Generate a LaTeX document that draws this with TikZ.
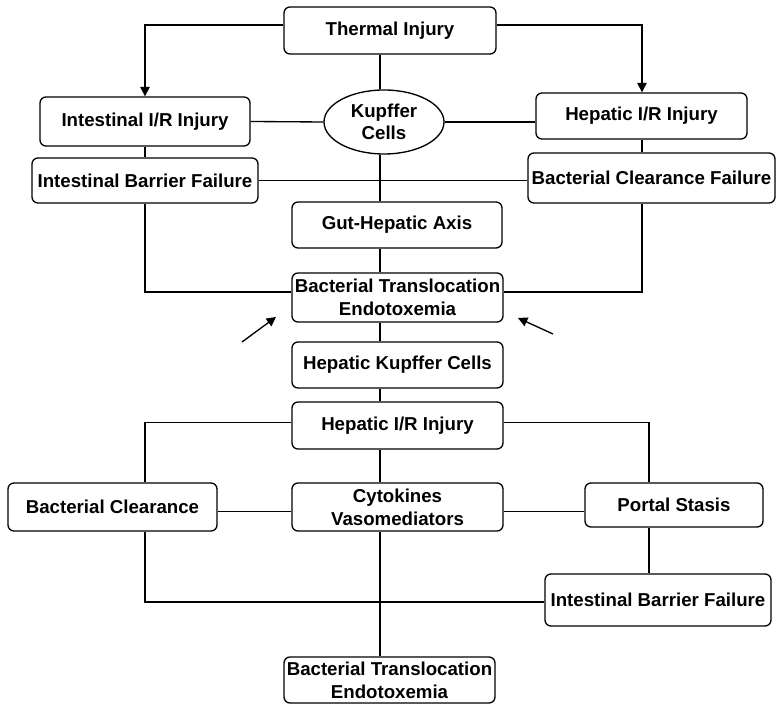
\documentclass[tikz,border=0pt]{standalone}
\usepackage{fontspec}
\setmainfont{Liberation Sans}
\usetikzlibrary{arrows.meta,shapes.geometric}
\begin{document}
\begin{tikzpicture}[x=0.75pt,y=0.75pt,
  box/.style={draw,rounded corners=4.5pt,line width=1pt,align=center,inner sep=0pt,
    font=\bfseries\fontsize{14}{17}\selectfont},
  oval/.style={draw,ellipse,line width=1pt,align=center,inner sep=0pt,
    font=\bfseries\fontsize{14}{17}\selectfont},
  conn/.style={line width=1pt},
  arr/.style={line width=1pt,-{Triangle[length=7pt,width=7pt]}}]
\useasboundingbox (0,0) rectangle (776,-705);
\coordinate (trunk) at (380,0);
\coordinate (lx) at (145,0);
\coordinate (rx) at (649,0);
\coordinate (rtop) at (642,0);
% nodes
\node[box,minimum width=159pt,minimum height=35.25pt] (thermal) at (390,-30.5) {Thermal Injury};
\node[oval,minimum width=90pt,minimum height=48pt] (kup) at (384,-122) {Kupffer\\Cells};
\node[box,minimum width=157.5pt,minimum height=36.75pt] (iir) at (145,-121.5) {Intestinal I/R Injury};
\node[box,minimum width=158.25pt,minimum height=34.5pt] (hir) at (641.5,-116) {Hepatic I/R Injury};
\node[box,minimum width=169.5pt,minimum height=33.75pt] (ibf) at (145,-180.5) {Intestinal Barrier Failure};
\node[box,minimum width=185.25pt,minimum height=37.5pt] (bcf) at (651.5,-178) {Bacterial Clearance Failure};
\node[box,minimum width=157.5pt,minimum height=34.5pt] (gha) at (397,-225) {Gut-Hepatic Axis};
\node[box,minimum width=158.25pt,minimum height=36.75pt] (bte) at (397.5,-297.5) {Bacterial Translocation\\Endotoxemia};
\node[box,minimum width=158.25pt,minimum height=34.5pt] (hkc) at (397.5,-365) {Hepatic Kupffer Cells};
\node[box,minimum width=158.25pt,minimum height=35.25pt] (hir2) at (397.5,-425.5) {Hepatic I/R Injury};
\node[box,minimum width=156.75pt,minimum height=36pt] (bc) at (112.5,-507) {Bacterial Clearance};
\node[box,minimum width=158.25pt,minimum height=36pt] (cyt) at (397.5,-507) {Cytokines\\Vasomediators};
\node[box,minimum width=133.5pt,minimum height=33pt] (ps) at (674,-505) {Portal Stasis};
\node[box,minimum width=169.5pt,minimum height=39pt] (ibf2) at (658,-600) {Intestinal Barrier Failure};
\node[box,minimum width=158.25pt,minimum height=34.5pt] (bte2) at (389.5,-680) {Bacterial Translocation\\Endotoxemia};
% top connectors
\draw[arr] ([yshift=4pt]thermal.west) -| (iir.north);
\draw[arr] ([yshift=4pt]thermal.east) -| (rtop |- hir.north);
\draw[conn] (trunk |- thermal.south) -- (trunk |- kup.north);
\draw[conn] (iir.east) -- (kup.west);
\draw[conn] (kup.east) -- (kup.east -| hir.west);
\draw[conn] (iir.south) -- (ibf.north);
\draw[conn] (rtop |- hir.south) -- (rtop |- bcf.north);
\draw[conn] (ibf.east) -- (ibf.east -| bcf.west);
\draw[conn] (trunk |- kup.south) -- (trunk |- gha.north);
\draw[conn] (trunk |- gha.south) -- (trunk |- bte.north);
\draw[conn] (ibf.south) |- ([yshift=4pt]bte.west);
\draw[conn] (rtop |- bcf.south) |- ([yshift=4pt]bte.east);
% middle trunk
\draw[conn] (trunk |- bte.south) -- (trunk |- hkc.north);
\draw[conn] (trunk |- hkc.south) -- (trunk |- hir2.north);
\draw[conn] (trunk |- hir2.south) -- (trunk |- cyt.north);
\draw[conn] ([yshift=2pt]hir2.west) -| (lx |- bc.north);
\draw[conn] ([yshift=2pt]hir2.east) -| (rx |- ps.north);
\draw[conn] ([yshift=-3.5pt]bc.east) -- ([yshift=-3.5pt]cyt.west);
\draw[conn] ([yshift=-3.5pt]cyt.east) -- ([yshift=-3.5pt]cyt.east -| ps.west);
\draw[conn] (rx |- ps.south) -- (rx |- ibf2.north);
\draw[conn] (lx |- bc.south) |- ([yshift=-1.5pt]ibf2.west);
\draw[conn] (trunk |- cyt.south) -- (trunk |- bte2.north);
% free arrows
\coordinate (a1t) at (242,-342);
\coordinate (a1h) at (276,-317);
\coordinate (a2t) at (553,-334);
\coordinate (a2h) at (518,-318);
\draw[arr] (a1t) -- (a1h);
\draw[arr] (a2t) -- (a2h);
\end{tikzpicture}
\end{document}
